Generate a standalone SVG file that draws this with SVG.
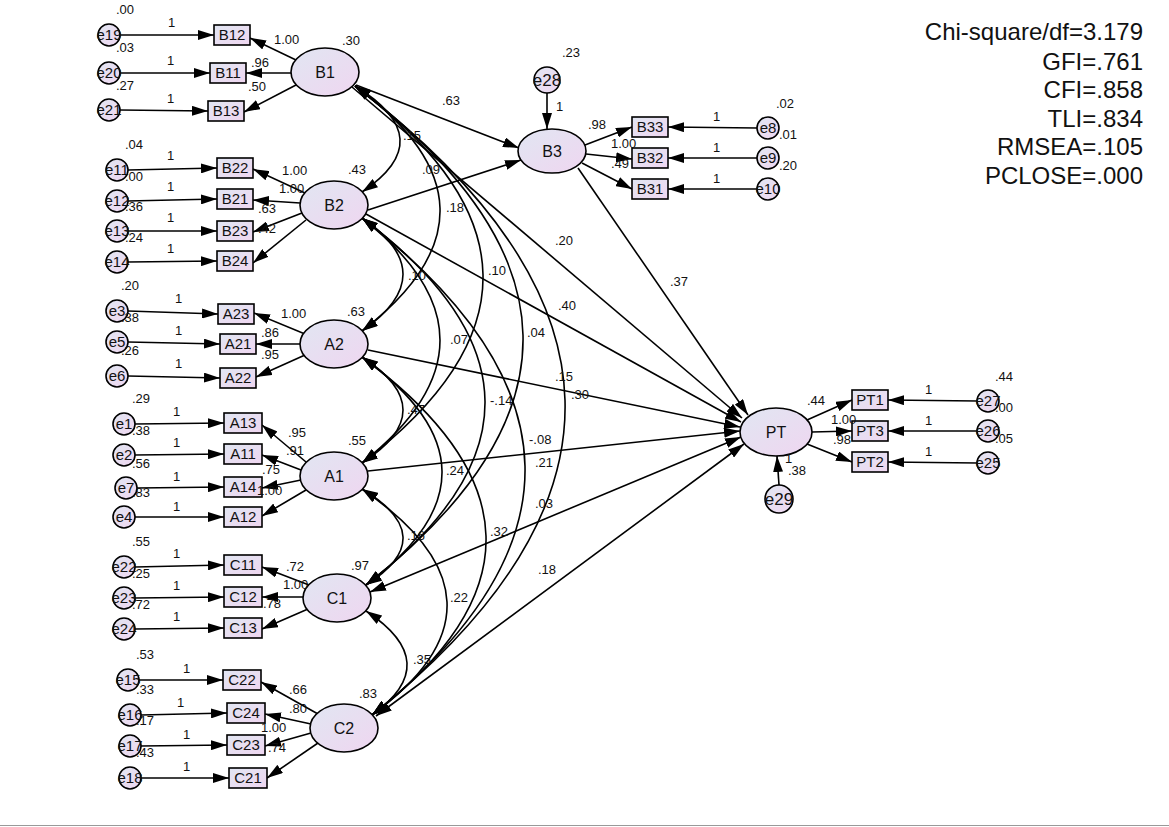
<svg xmlns="http://www.w3.org/2000/svg" width="1169" height="827" viewBox="0 0 1169 827">
<defs>
<linearGradient id="g" x1="0" y1="0" x2="1" y2="1"><stop offset="0" stop-color="#e1e6f2"/><stop offset="1" stop-color="#efd6f0"/></linearGradient>
<marker id="a" viewBox="0 0 16 10" refX="16" refY="5" markerWidth="16" markerHeight="10" markerUnits="userSpaceOnUse" orient="auto-start-reverse"><path d="M0,0L16,5L0,10z" fill="#000"/></marker>
<style>
.n ellipse,.n circle,.n rect{fill:url(#g);stroke:#000;stroke-width:1.6}
.n text{font-family:"Liberation Sans",Arial,sans-serif;text-anchor:middle;fill:#111}
.lv text{font-size:16px}.ov text{font-size:15px}.er text{font-size:15px}
#c path,#c line{fill:none;stroke:#000;stroke-width:1.6}
#c .ar{marker-end:url(#a)}#c .bi{marker-start:url(#a);marker-end:url(#a)}
.lb text{font-family:"Liberation Sans",Arial,sans-serif;font-size:13px;fill:#111}
.fit text{font-family:"Liberation Sans",Arial,sans-serif;font-size:24px;text-anchor:end;fill:#111}
</style>
</defs>
<rect width="1169" height="827" fill="#fff"/>
<line x1="0" y1="825.5" x2="1169" y2="825.5" stroke="#999" stroke-width="1"/>
<g id="c">
<line class="ar" x1="120" y1="35" x2="214" y2="35"/>
<line class="ar" x1="120" y1="73" x2="210" y2="73"/>
<line class="ar" x1="120" y1="110" x2="208" y2="111"/>
<line class="ar" x1="128" y1="170" x2="217" y2="168"/>
<line class="ar" x1="128" y1="201" x2="217" y2="199"/>
<line class="ar" x1="128" y1="231" x2="217" y2="231"/>
<line class="ar" x1="128" y1="262" x2="217" y2="261"/>
<line class="ar" x1="128" y1="311" x2="218" y2="314"/>
<line class="ar" x1="128" y1="342" x2="220" y2="344"/>
<line class="ar" x1="128" y1="376" x2="220" y2="378"/>
<line class="ar" x1="135" y1="424" x2="224" y2="423"/>
<line class="ar" x1="135" y1="455" x2="224" y2="454"/>
<line class="ar" x1="137" y1="488" x2="224" y2="487"/>
<line class="ar" x1="135" y1="517" x2="224" y2="517"/>
<line class="ar" x1="135" y1="567" x2="224" y2="565"/>
<line class="ar" x1="135" y1="598" x2="224" y2="597"/>
<line class="ar" x1="135" y1="629" x2="224" y2="628"/>
<line class="ar" x1="139" y1="680" x2="223" y2="680"/>
<line class="ar" x1="141" y1="715" x2="227" y2="713"/>
<line class="ar" x1="141" y1="746" x2="227" y2="745"/>
<line class="ar" x1="141" y1="778" x2="229" y2="778"/>
<line class="ar" x1="296" y1="60" x2="250" y2="38"/>
<line class="ar" x1="291" y1="73" x2="246" y2="73"/>
<line class="ar" x1="296" y1="85" x2="244" y2="112"/>
<line class="ar" x1="305" y1="193" x2="253" y2="169"/>
<line class="ar" x1="300" y1="203" x2="253" y2="200"/>
<line class="ar" x1="302" y1="213" x2="253" y2="232"/>
<line class="ar" x1="306" y1="220" x2="253" y2="263"/>
<line class="ar" x1="305" y1="334" x2="254" y2="313"/>
<line class="ar" x1="300" y1="344" x2="256" y2="344"/>
<line class="ar" x1="305" y1="355" x2="256" y2="377"/>
<line class="ar" x1="306" y1="462" x2="262" y2="425"/>
<line class="ar" x1="301" y1="470" x2="262" y2="455"/>
<line class="ar" x1="301" y1="480" x2="262" y2="488"/>
<line class="ar" x1="306" y1="490" x2="262" y2="516"/>
<line class="ar" x1="309" y1="585" x2="262" y2="567"/>
<line class="ar" x1="303" y1="597" x2="262" y2="597"/>
<line class="ar" x1="308" y1="609" x2="262" y2="629"/>
<line class="ar" x1="318" y1="714" x2="261" y2="682"/>
<line class="ar" x1="311" y1="724" x2="265" y2="714"/>
<line class="ar" x1="311" y1="733" x2="265" y2="746"/>
<line class="ar" x1="318" y1="743" x2="267" y2="778"/>
<line class="ar" x1="547" y1="93" x2="547" y2="129"/>
<line class="ar" x1="585" y1="145" x2="632" y2="127"/>
<line class="ar" x1="586" y1="154" x2="632" y2="159"/>
<line class="ar" x1="582" y1="163" x2="632" y2="189"/>
<line class="ar" x1="757" y1="128" x2="668" y2="127"/>
<line class="ar" x1="757" y1="158" x2="668" y2="158"/>
<line class="ar" x1="757" y1="189" x2="668" y2="189"/>
<line class="ar" x1="356" y1="85" x2="519" y2="148"/>
<line class="ar" x1="368" y1="210" x2="521" y2="160"/>
<line class="ar" x1="578" y1="168" x2="748" y2="415"/>
<line class="ar" x1="352" y1="87" x2="742" y2="418"/>
<line class="ar" x1="366" y1="214" x2="741" y2="422"/>
<line class="ar" x1="368" y1="350" x2="740" y2="427"/>
<line class="ar" x1="368" y1="471" x2="740" y2="431"/>
<line class="bi" x1="370" y1="592" x2="741" y2="437"/>
<line class="bi" x1="376" y1="716" x2="744" y2="444"/>
<line class="ar" x1="807" y1="420" x2="852" y2="400"/>
<line class="ar" x1="812" y1="432" x2="852" y2="431"/>
<line class="ar" x1="807" y1="444" x2="852" y2="462"/>
<line class="ar" x1="977" y1="401" x2="888" y2="400"/>
<line class="ar" x1="977" y1="431" x2="888" y2="431"/>
<line class="ar" x1="977" y1="463" x2="888" y2="462"/>
<line class="ar" x1="779" y1="485" x2="777" y2="456"/>
<path class="bi" d="M355,86 Q441.5,139 362,192"/>
<path class="bi" d="M362,218 Q444,274 362,331"/>
<path class="bi" d="M362,357 Q444,410 362,463"/>
<path class="bi" d="M362,489 Q442,537 366,585"/>
<path class="bi" d="M366,611 Q445,663 372,715"/>
<path class="bi" d="M355,86 Q521.5,208 362,331"/>
<path class="bi" d="M362,218 Q518,340 362,463"/>
<path class="bi" d="M362,357 Q520,471 366,585"/>
<path class="bi" d="M362,489 Q527,602 372,715"/>
<path class="bi" d="M355,86 Q607.5,275 362,463"/>
<path class="bi" d="M362,218 Q606,401 366,585"/>
<path class="bi" d="M362,357 Q605,536 372,715"/>
<path class="bi" d="M355,86 Q685.5,335 366,585"/>
<path class="bi" d="M362,218 Q683,466 372,715"/>
<path class="bi" d="M355,86 Q766.5,400 372,715"/>
</g>
<g class="n lv" id="B1"><ellipse cx="325" cy="72" rx="34" ry="24"/><text x="325" y="78">B1</text></g>
<g class="n lv" id="B2"><ellipse cx="334" cy="205" rx="34" ry="24"/><text x="334" y="211">B2</text></g>
<g class="n lv" id="A2"><ellipse cx="334" cy="344" rx="34" ry="24"/><text x="334" y="350">A2</text></g>
<g class="n lv" id="A1"><ellipse cx="334" cy="476" rx="34" ry="24"/><text x="334" y="482">A1</text></g>
<g class="n lv" id="C1"><ellipse cx="337" cy="598" rx="34" ry="24"/><text x="337" y="604">C1</text></g>
<g class="n lv" id="C2"><ellipse cx="344" cy="728" rx="34" ry="24"/><text x="344" y="734">C2</text></g>
<g class="n lv" id="B3"><ellipse cx="552" cy="151" rx="34" ry="22"/><text x="552" y="157">B3</text></g>
<g class="n lv" id="PT"><ellipse cx="776" cy="432" rx="36" ry="24"/><text x="776" y="438">PT</text></g>
<g class="n ov">
<g id="B12"><rect x="214" y="25" width="36" height="20"/><text x="232" y="40">B12</text></g>
<g id="B11"><rect x="210" y="63" width="36" height="20"/><text x="228" y="78">B11</text></g>
<g id="B13"><rect x="208" y="101" width="36" height="20"/><text x="226" y="116">B13</text></g>
<g id="B22"><rect x="217" y="158" width="36" height="20"/><text x="235" y="173">B22</text></g>
<g id="B21"><rect x="217" y="189" width="36" height="20"/><text x="235" y="204">B21</text></g>
<g id="B23"><rect x="217" y="221" width="36" height="20"/><text x="235" y="236">B23</text></g>
<g id="B24"><rect x="217" y="251" width="36" height="20"/><text x="235" y="266">B24</text></g>
<g id="A23"><rect x="218" y="304" width="36" height="20"/><text x="236" y="319">A23</text></g>
<g id="A21"><rect x="220" y="334" width="36" height="20"/><text x="238" y="349">A21</text></g>
<g id="A22"><rect x="220" y="368" width="36" height="20"/><text x="238" y="383">A22</text></g>
<g id="A13"><rect x="224" y="413" width="38" height="20"/><text x="243" y="428">A13</text></g>
<g id="A11"><rect x="224" y="444" width="38" height="20"/><text x="243" y="459">A11</text></g>
<g id="A14"><rect x="224" y="477" width="38" height="20"/><text x="243" y="492">A14</text></g>
<g id="A12"><rect x="224" y="507" width="38" height="20"/><text x="243" y="522">A12</text></g>
<g id="C11"><rect x="224" y="555" width="38" height="20"/><text x="243" y="570">C11</text></g>
<g id="C12"><rect x="224" y="587" width="38" height="20"/><text x="243" y="602">C12</text></g>
<g id="C13"><rect x="224" y="618" width="38" height="20"/><text x="243" y="633">C13</text></g>
<g id="C22"><rect x="223" y="670" width="38" height="20"/><text x="242" y="685">C22</text></g>
<g id="C24"><rect x="227" y="703" width="38" height="20"/><text x="246" y="718">C24</text></g>
<g id="C23"><rect x="227" y="735" width="38" height="20"/><text x="246" y="750">C23</text></g>
<g id="C21"><rect x="229" y="768" width="38" height="20"/><text x="248" y="783">C21</text></g>
<g id="B33"><rect x="632" y="117" width="36" height="20"/><text x="650" y="132">B33</text></g>
<g id="B32"><rect x="632" y="148" width="36" height="20"/><text x="650" y="163">B32</text></g>
<g id="B31"><rect x="632" y="179" width="36" height="20"/><text x="650" y="194">B31</text></g>
<g id="PT1"><rect x="852" y="390" width="36" height="20"/><text x="870" y="405">PT1</text></g>
<g id="PT3"><rect x="852" y="421" width="36" height="20"/><text x="870" y="436">PT3</text></g>
<g id="PT2"><rect x="852" y="452" width="36" height="20"/><text x="870" y="467">PT2</text></g>
</g>
<g class="n er">
<g id="e19"><circle cx="109" cy="35" r="11"/><text x="109" y="40">e19</text></g>
<g id="e20"><circle cx="109" cy="73" r="11"/><text x="109" y="78">e20</text></g>
<g id="e21"><circle cx="109" cy="110" r="11"/><text x="109" y="115">e21</text></g>
<g id="e11"><circle cx="117" cy="170" r="11"/><text x="117" y="175">e11</text></g>
<g id="e12"><circle cx="117" cy="201" r="11"/><text x="117" y="206">e12</text></g>
<g id="e13"><circle cx="117" cy="231" r="11"/><text x="117" y="236">e13</text></g>
<g id="e14"><circle cx="117" cy="262" r="11"/><text x="117" y="267">e14</text></g>
<g id="e3"><circle cx="117" cy="311" r="11"/><text x="117" y="316">e3</text></g>
<g id="e5"><circle cx="117" cy="342" r="11"/><text x="117" y="347">e5</text></g>
<g id="e6"><circle cx="117" cy="376" r="11"/><text x="117" y="381">e6</text></g>
<g id="e1"><circle cx="124" cy="424" r="11"/><text x="124" y="429">e1</text></g>
<g id="e2"><circle cx="124" cy="455" r="11"/><text x="124" y="460">e2</text></g>
<g id="e7"><circle cx="126" cy="488" r="11"/><text x="126" y="493">e7</text></g>
<g id="e4"><circle cx="124" cy="517" r="11"/><text x="124" y="522">e4</text></g>
<g id="e22"><circle cx="124" cy="567" r="11"/><text x="124" y="572">e22</text></g>
<g id="e23"><circle cx="124" cy="598" r="11"/><text x="124" y="603">e23</text></g>
<g id="e24"><circle cx="124" cy="629" r="11"/><text x="124" y="634">e24</text></g>
<g id="e15"><circle cx="128" cy="680" r="11"/><text x="128" y="685">e15</text></g>
<g id="e16"><circle cx="130" cy="715" r="11"/><text x="130" y="720">e16</text></g>
<g id="e17"><circle cx="130" cy="746" r="11"/><text x="130" y="751">e17</text></g>
<g id="e18"><circle cx="130" cy="778" r="11"/><text x="130" y="783">e18</text></g>
<g id="e28"><circle cx="547" cy="80" r="13"/><text x="547" y="86" style="font-size:17px">e28</text></g>
<g id="e8"><circle cx="768" cy="128" r="11"/><text x="768" y="133">e8</text></g>
<g id="e9"><circle cx="768" cy="158" r="11"/><text x="768" y="163">e9</text></g>
<g id="e10"><circle cx="768" cy="189" r="11"/><text x="768" y="194">e10</text></g>
<g id="e27"><circle cx="988" cy="401" r="11"/><text x="988" y="406">e27</text></g>
<g id="e26"><circle cx="988" cy="431" r="11"/><text x="988" y="436">e26</text></g>
<g id="e25"><circle cx="988" cy="463" r="11"/><text x="988" y="468">e25</text></g>
<g id="e29"><circle cx="779" cy="499" r="14"/><text x="779" y="505" style="font-size:17px">e29</text></g>
</g>
<g class="lb">
<text x="116" y="14">.00</text><text x="168" y="27">1</text><text x="274" y="44">1.00</text><text x="342" y="45">.30</text>
<text x="116" y="52">.03</text><text x="167" y="65">1</text><text x="251" y="67">.96</text>
<text x="116" y="90">.27</text><text x="167" y="103">1</text><text x="248" y="91">.50</text>
<text x="125" y="149">.04</text><text x="167" y="160">1</text><text x="282" y="175">1.00</text><text x="348" y="174">.43</text>
<text x="125" y="181">.00</text><text x="167" y="191">1</text><text x="279" y="193">1.00</text>
<text x="125" y="211">.36</text><text x="167" y="222">1</text><text x="258" y="213">.63</text>
<text x="125" y="242">.24</text><text x="167" y="253">1</text><text x="258" y="233">.42</text>
<text x="121" y="290">.20</text><text x="175" y="303">1</text><text x="281" y="318">1.00</text><text x="347" y="316">.63</text>
<text x="121" y="322">.38</text><text x="175" y="335">1</text><text x="261" y="337">.86</text>
<text x="121" y="355">.26</text><text x="175" y="368">1</text><text x="261" y="359">.95</text>
<text x="132" y="403">.29</text><text x="173" y="416">1</text><text x="288" y="437">.95</text><text x="348" y="445">.55</text>
<text x="132" y="435">.38</text><text x="173" y="447">1</text><text x="286" y="455">.91</text>
<text x="132" y="468">.56</text><text x="173" y="481">1</text><text x="262" y="474">.75</text>
<text x="132" y="497">.83</text><text x="173" y="511">1</text><text x="257" y="495">1.00</text>
<text x="132" y="546">.55</text><text x="173" y="558">1</text><text x="286" y="571">.72</text><text x="351" y="570">.97</text>
<text x="132" y="578">.25</text><text x="173" y="590">1</text><text x="283" y="589">1.00</text>
<text x="132" y="609">.72</text><text x="173" y="621">1</text><text x="263" y="608">.78</text>
<text x="136" y="659">.53</text><text x="183" y="673">1</text><text x="289" y="694">.66</text><text x="359" y="698">.83</text>
<text x="136" y="694">.33</text><text x="177" y="707">1</text><text x="289" y="713">.80</text>
<text x="136" y="725">.17</text><text x="183" y="739">1</text><text x="261" y="732">1.00</text>
<text x="136" y="757">.43</text><text x="183" y="771">1</text><text x="268" y="752">.74</text>
<text x="442" y="105">.63</text><text x="403" y="140">.15</text><text x="422" y="174">.09</text><text x="446" y="212">.18</text>
<text x="555" y="245">.20</text><text x="408" y="280">.10</text><text x="488" y="275">.10</text><text x="558" y="310">.40</text>
<text x="527" y="337">.04</text><text x="450" y="344">.07</text><text x="555" y="381">.15</text><text x="571" y="399">.30</text>
<text x="407" y="414">.47</text><text x="490" y="405">-.14</text><text x="529" y="444">-.08</text><text x="446" y="475">.24</text>
<text x="535" y="467">.21</text><text x="535" y="508">.03</text><text x="407" y="540">.16</text><text x="490" y="536">.32</text>
<text x="538" y="574">.18</text><text x="450" y="602">.22</text><text x="413" y="664">.35</text><text x="670" y="286">.37</text>
<text x="562" y="57">.23</text><text x="556" y="111">1</text><text x="588" y="129">.98</text><text x="611" y="148">1.00</text><text x="611" y="168">.49</text>
<text x="713" y="121">1</text><text x="713" y="152">1</text><text x="713" y="183">1</text>
<text x="776" y="108">.02</text><text x="779" y="139">.01</text><text x="779" y="170">.20</text>
<text x="807" y="405">.44</text><text x="831" y="424">1.00</text><text x="833" y="444">.98</text>
<text x="925" y="394">1</text><text x="925" y="425">1</text><text x="925" y="456">1</text>
<text x="995" y="381">.44</text><text x="995" y="412">.00</text><text x="995" y="443">.05</text>
<text x="785" y="463">1</text><text x="788" y="475">.38</text>
</g>
<g class="fit">
<text x="1143" y="40">Chi-square/df=3.179</text>
<text x="1143" y="70">GFI=.761</text>
<text x="1143" y="98">CFI=.858</text>
<text x="1143" y="127">TLI=.834</text>
<text x="1143" y="155">RMSEA=.105</text>
<text x="1143" y="184">PCLOSE=.000</text>
</g>
</svg>
